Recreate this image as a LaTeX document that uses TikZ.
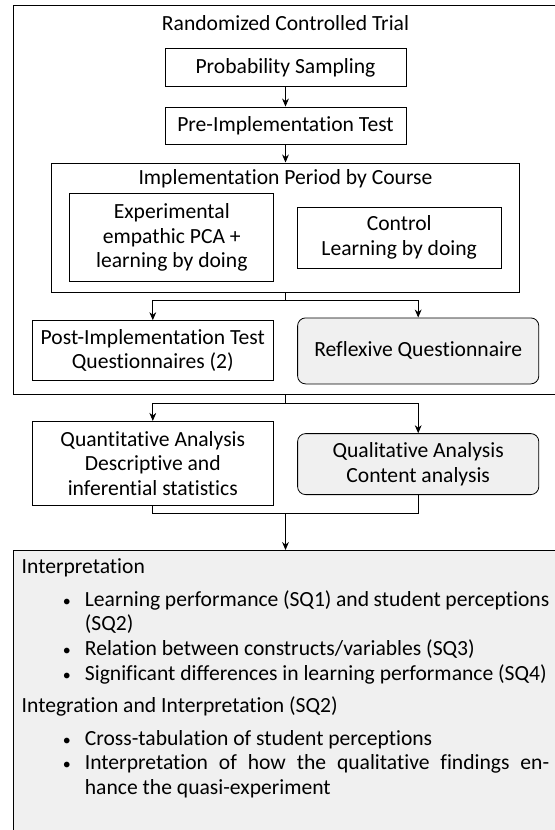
\documentclass[tikz,border=0pt]{standalone}
\usepackage{fontspec}
\setmainfont{Carlito}[Ligatures=NoCommon]
\usepackage{enumitem}
\usetikzlibrary{positioning, arrows.meta}

\colorlet{boxgray}{black!6}
\tikzset{
  box/.style={draw, align=center, minimum width=120.6pt, minimum height=18.85pt, inner sep=2pt},
  roundbox/.style={box, rounded corners=4pt, fill=boxgray},
  frame/.style={draw, inner sep=0pt},
}
\setlist[itemize]{label={\footnotesize\textbullet}, leftmargin=31.6pt, labelsep=7pt,
  topsep=4pt, itemsep=0pt, parsep=0pt, partopsep=0pt}

\begin{document}
\begin{tikzpicture}[node distance=20pt, on grid, >={Stealth[length=4pt,width=3.4pt]},
    font=\fontsize{10.8pt}{12.3pt}\selectfont]
   \useasboundingbox (0,0) rectangle (277.5pt,-415pt);
   \clip (0,0) rectangle (277.5pt,-415pt);

   % randomized controlled trial
   \node[frame, minimum width=272.2pt, minimum height=194.5pt] (rct) at (142.75pt,-99.75pt) {};
   \node (rcttitle) [below=9pt of rct.north, anchor=center] {Randomized Controlled Trial};
   \node[box] (prob) [below=31.4pt of rct.north, anchor=center] {Probability Sampling};
   \node[box] (pre) [below=29.2pt of prob] {Pre-Implementation Test};

   % implementation period
   \node[frame, minimum width=234.15pt, minimum height=64.7pt] (impl) [below=50.9pt of pre] {};
   \node (impltitle) [below=8.35pt of impl.north, anchor=center] {Implementation Period by Course};
   \node[box, minimum width=102pt, minimum height=43.85pt] (exper) [below left=4.9pt and 56.85pt of impl]
      {Experimental\\empathic PCA +\\learning by doing};
   \node[box, minimum width=102pt, minimum height=30.5pt] (ctrl) [below right=4.9pt and 56.85pt of impl]
      {Control\\Learning by doing};

   \node[box, minimum height=30pt] (post) [below left=61.5pt and 66.35pt of impl]
      {Post-Implementation Test\\Questionnaires (2)};
   \node[roundbox, minimum height=33pt] (refl) [below right=61.65pt and 66.35pt of impl]
      {Reflexive Questionnaire};

   % analysis
   \node[box, minimum height=42pt] (quant) [below=56.35pt of post]
      {Quantitative Analysis\\Descriptive and\\inferential statistics};
   \node[roundbox, minimum height=30.5pt] (qual) [below=56.6pt of refl]
      {Qualitative Analysis\\Content analysis};

   \node[draw, fill=boxgray, anchor=north, inner sep=4.2pt] (interp) at (142.75pt,-275pt)
      {\begin{minipage}[t][160pt][t]{263.8pt}
       Interpretation
       \begin{itemize}
         \item Learning performance (SQ1) and student perceptions (SQ2)
         \item Relation between constructs/variables (SQ3)
         \item Significant differences in learning performance (SQ4)
       \end{itemize}
       Integration and Interpretation (SQ2)
       \begin{itemize}
         \item Cross-tabulation of student perceptions
         \item Interpretation of how the qualitative findings en-\linebreak hance the quasi-experiment
       \end{itemize}
       \end{minipage}};

   \coordinate[below=4pt of impl.south] (split1);
   \coordinate[below=4.35pt of rct.south] (split2);
   \coordinate (merge) at (142.75pt,-256.65pt);

   \path[->]
   (prob) edge (pre)
   (pre)  edge (impl);
   \draw (impl) -- (split1);
   \draw[->] (split1) -| (post);
   \draw[->] (split1) -| (refl);
   \draw (rct) -- (split2);
   \draw[->] (split2) -| (quant);
   \draw[->] (split2) -| (qual);
   \draw (quant) |- (merge) -| (qual);
   \draw[->] (merge) -- (interp);
\end{tikzpicture}
\end{document}
